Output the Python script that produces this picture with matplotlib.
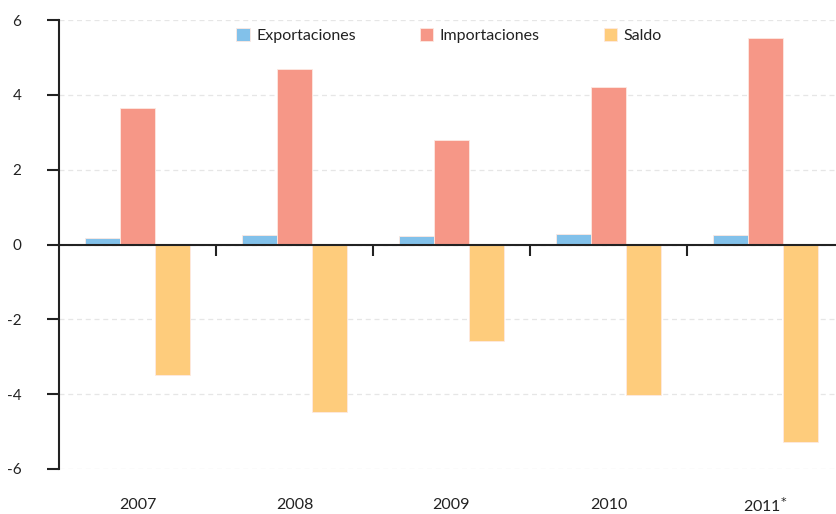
import matplotlib.pyplot as plt
import matplotlib.transforms as mtransforms
import numpy as np

years = ['2007', '2008', '2009', '2010', '2011$^{*}$']
exportaciones = [0.18, 0.25, 0.22, 0.27, 0.26]
importaciones = [3.65, 4.68, 2.78, 4.22, 5.51]
saldo = [-3.50, -4.47, -2.59, -4.01, -5.27]

series = [('Exportaciones', exportaciones, '#82c1ea'),
          ('Importaciones', importaciones, '#f69787'),
          ('Saldo', saldo, '#fecc7c')]

plt.rcParams['font.family'] = ['Lato', 'DejaVu Sans']

fig = plt.figure(figsize=(8.36, 5.14), dpi=100)
ax = fig.add_axes([59 / 836, 45 / 514, 1 - 59 / 836, 449 / 514])

x = np.arange(len(years))
w = 0.223
for i, (name, vals, col) in enumerate(series):
    ax.bar(x + (i - 1) * w, vals, w, color=col, edgecolor='#fde9e2',
           linewidth=0.6, label=name, zorder=3)

ax.set_xlim(-0.5, 4.45)
ax.set_ylim(-6, 6)
ax.set_yticks([-6, -4, -2, 0, 2, 4, 6])
ax.set_yticklabels(['-6', '-4', '-2', '0', '2', '4', '6'])
ax.yaxis.grid(True, linestyle=(0, (4, 3)), color='#e6e6e6', linewidth=0.9, zorder=0)

ax.spines['top'].set_visible(False)
ax.spines['right'].set_visible(False)
ax.spines['bottom'].set_position(('data', 0))
for s in ('left', 'bottom'):
    ax.spines[s].set_linewidth(1.5)
    ax.spines[s].set_color('#222222')
    ax.spines[s].set_zorder(4)

ax.set_xticks([0.5, 1.5, 2.5, 3.5])
ax.set_xticklabels([])
ax.tick_params(axis='x', direction='out', length=8, width=1.5, color='#222222')
ax.tick_params(axis='y', direction='out', length=9, width=1.5, color='#222222',
               labelsize=11, pad=18, labelcolor='#222222')

trans = mtransforms.blended_transform_factory(ax.transData, ax.transAxes)
for xi, yr in zip(x, years):
    ax.text(xi, -0.081, yr, transform=trans, ha='center', va='center',
            fontsize=11.5, color='#222222')

leg = ax.legend(loc='center', bbox_to_anchor=(0.502, 0.966), ncol=3, frameon=False,
                fontsize=11.5, handlelength=0.85, handleheight=0.85, handletextpad=0.4,
                columnspacing=4.0, labelcolor='#222222')

fig.savefig('out.png', dpi=100)
